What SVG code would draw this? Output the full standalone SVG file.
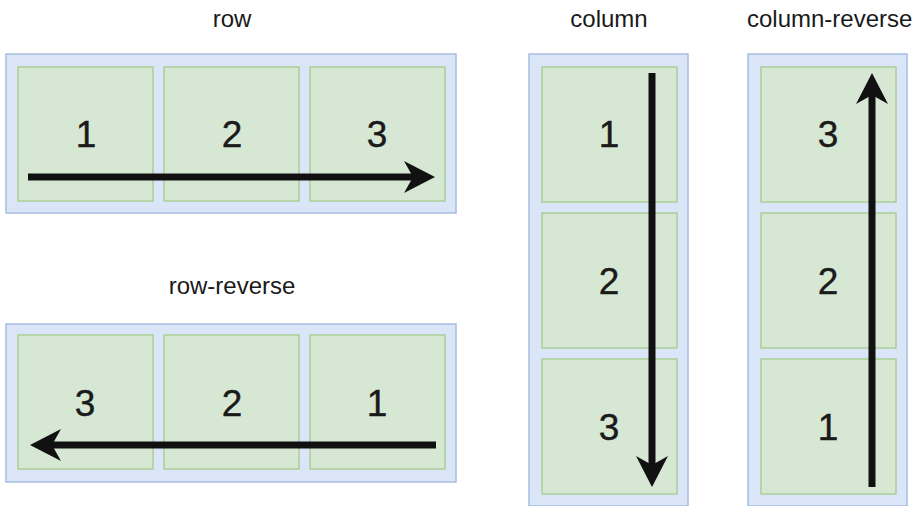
<svg xmlns="http://www.w3.org/2000/svg" width="914" height="506" viewBox="0 0 914 506">
<style>
.outer{fill:#dae6f7;stroke:#a7bde0;stroke-width:1.5}
.item{fill:#d6e8d4;stroke:#a3cb8c;stroke-width:1.3}
.num{font-family:"Liberation Sans",Arial,sans-serif;font-size:37px;fill:#1a1a1a;text-anchor:middle;stroke:#1a1a1a;stroke-width:0.4}
.lbl{font-family:"Liberation Sans",Arial,sans-serif;font-size:24px;fill:#1a1a1a;text-anchor:middle}
.arr{stroke:#111;stroke-width:7;fill:none;marker-end:url(#head)}
</style>
<defs>
<marker id="head" markerUnits="userSpaceOnUse" markerWidth="32" markerHeight="32" refX="9" refY="16" orient="auto" viewBox="0 0 32 32">
<path d="M0,0 L31,16 L0,32 L9,16 Z" fill="#111"/>
</marker>
</defs>
<rect width="914" height="506" fill="#ffffff"/>

<text class="lbl" x="232" y="27">row</text>
<text class="lbl" x="609" y="27">column</text>
<text class="lbl" x="747" y="27" style="text-anchor:start">column-reverse</text>
<text class="lbl" x="232" y="294">row-reverse</text>

<g id="row">
<rect class="outer" x="6" y="54" width="450" height="159"/>
<g id="row-1"><rect class="item" x="18" y="67" width="135" height="134"/><text class="num" x="86" y="147">1</text></g>
<g id="row-2"><rect class="item" x="164" y="67" width="135" height="134"/><text class="num" x="232" y="147">2</text></g>
<g id="row-3"><rect class="item" x="310" y="67" width="135" height="134"/><text class="num" x="377" y="147">3</text></g>
</g>

<g id="row-reverse">
<rect class="outer" x="6" y="324" width="450" height="158"/>
<g id="rr-3"><rect class="item" x="18" y="335" width="135" height="134"/><text class="num" x="85" y="416">3</text></g>
<g id="rr-2"><rect class="item" x="164" y="335" width="135" height="134"/><text class="num" x="232" y="416">2</text></g>
<g id="rr-1"><rect class="item" x="310" y="335" width="135" height="134"/><text class="num" x="377" y="416">1</text></g>
</g>

<g id="column">
<rect class="outer" x="529" y="54" width="159" height="452"/>
<g id="col-1"><rect class="item" x="542" y="67" width="135" height="135"/><text class="num" x="609" y="147">1</text></g>
<g id="col-2"><rect class="item" x="542" y="213" width="135" height="135"/><text class="num" x="609" y="294">2</text></g>
<g id="col-3"><rect class="item" x="542" y="359" width="135" height="135"/><text class="num" x="609" y="440">3</text></g>
</g>

<g id="column-reverse">
<rect class="outer" x="748" y="54" width="159" height="452"/>
<g id="cr-3"><rect class="item" x="761" y="67" width="135" height="135"/><text class="num" x="828" y="147">3</text></g>
<g id="cr-2"><rect class="item" x="761" y="213" width="135" height="135"/><text class="num" x="828" y="294">2</text></g>
<g id="cr-1"><rect class="item" x="761" y="359" width="135" height="135"/><text class="num" x="828" y="440">1</text></g>
</g>

<g id="connectors">
<path class="arr" d="M28,177 L413,177"/>
<path class="arr" d="M436,445 L52,445"/>
<path class="arr" d="M652,73 L652,465"/>
<path class="arr" d="M872,487 L872,95"/>
</g>
</svg>
